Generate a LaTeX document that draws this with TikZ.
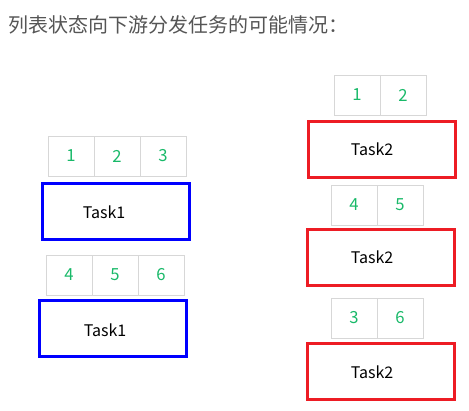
\documentclass[tikz,border=0pt]{standalone}
\usepackage{fontspec}
\setmainfont{Noto Sans CJK SC}
\usetikzlibrary{positioning}
\definecolor{titlegray}{RGB}{85, 85, 85}
\definecolor{numgreen}{RGB}{25, 185, 105}
\definecolor{cellgray}{RGB}{215, 215, 215}
\definecolor{taskred}{RGB}{237, 28, 36}

\begin{document}
\begin{tikzpicture}[
        x=0.75pt, y=-0.75pt,
        cell/.style={rectangle, draw=cellgray, line width=0.75pt, inner sep=0pt, outer sep=0pt,
            minimum width=34.5pt, minimum height=30pt, text=numgreen, font=\fontsize{12.5}{14}\selectfont},
        taskbox/.style={rectangle, line width=2.25pt, inner sep=0pt,
            minimum width=110.25pt, minimum height=42pt},
        blue box/.style={taskbox, draw=blue},
        red box/.style={taskbox, draw=taskred},
        tasktext/.style={font=\fontsize{12}{14}\selectfont, inner sep=0pt}
    ]
        \useasboundingbox (0,0) rectangle (469,411);
        \node[anchor=west, text=titlegray, font=\fontsize{15}{18}\selectfont, inner sep=0pt] (title) at (8,25) {列表状态向下游分发任务的可能情况：};

        % left side: Task1
        \node[cell] (a1) at (71,156) {1};
        \node[cell, right=0pt of a1] (a2) {2};
        \node[cell, right=0pt of a2] (a3) {3};
        \node[blue box] (task1a) at (116,211) {};
        \node[tasktext] (t1a) at (104,212) {Task1};

        \node[cell] (b1) at (69,275) {4};
        \node[cell, right=0pt of b1] (b2) {5};
        \node[cell, right=0pt of b2] (b3) {6};
        \node[blue box] (task1b) at (113,328.5) {};
        \node[tasktext] (t1b) at (105,330) {Task1};

        % right side: Task2
        \node[cell] (c1) at (357,95) {1};
        \node[cell, right=0pt of c1] (c2) {2};
        \node[red box] (task2a) at (382,149.5) {};
        \node[tasktext] (t2a) at (372,149) {Task2};

        \node[cell] (d1) at (354,205) {4};
        \node[cell, right=0pt of d1] (d2) {5};
        \node[red box] (task2b) at (381,257.5) {};
        \node[tasktext] (t2b) at (372,257) {Task2};

        \node[cell] (e1) at (354,318) {3};
        \node[cell, right=0pt of e1] (e2) {6};
        \node[red box] (task2c) at (381,371.5) {};
        \node[tasktext] (t2c) at (372,372) {Task2};
    \end{tikzpicture}
\end{document}
